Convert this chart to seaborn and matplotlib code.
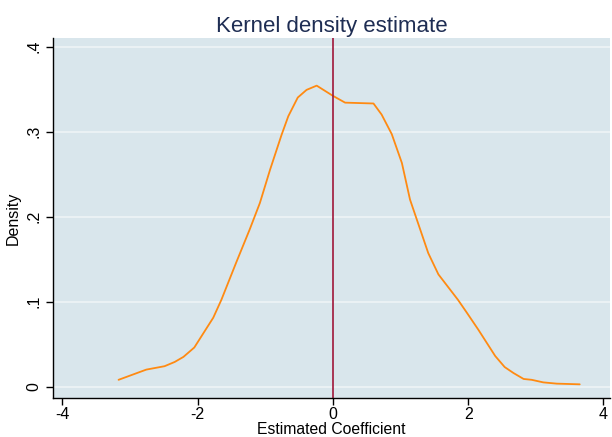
import numpy as np
import pandas as pd
import matplotlib
matplotlib.use("Agg")
import matplotlib.pyplot as plt
import seaborn as sns

# kernel density curve
coef = [-3.17, -2.76, -2.49, -2.34, -2.21, -2.05, -1.77, -1.65, -1.43, -1.23,
        -1.08, -0.93, -0.76, -0.66, -0.52, -0.39, -0.24, 0.0, 0.18, 0.60,
        0.72, 0.87, 1.02, 1.14, 1.29, 1.41, 1.56, 1.85, 1.98, 2.15,
        2.40, 2.54, 2.67, 2.82, 2.94, 3.11, 3.31, 3.65]
density = [0.008, 0.020, 0.024, 0.029, 0.035, 0.046, 0.081, 0.102, 0.146, 0.185,
           0.216, 0.255, 0.296, 0.318, 0.340, 0.349, 0.354, 0.342, 0.334, 0.333,
           0.320, 0.297, 0.263, 0.220, 0.185, 0.157, 0.132, 0.102, 0.087, 0.067,
           0.036, 0.023, 0.016, 0.009, 0.008, 0.005, 0.0035, 0.0027]
xticks = [-4, -2, 0, 2, 4]
yticks = [0, 0.1, 0.2, 0.3, 0.4]
ylabels = ["0", ".1", ".2", ".3", ".4"]

df = pd.DataFrame({"coef": coef, "density": density})

sns.set_theme(style="white")
plt.rcParams["font.family"] = ["Liberation Sans", "DejaVu Sans"]

fig = plt.figure(figsize=(6.12, 4.37), dpi=100)
ax = fig.add_axes([0.086, 0.09, 0.911, 0.823])
ax.set_facecolor("#D9E6EC")

for y in yticks:
    ax.axhline(y, color="#EEF4F6", lw=1.2, zorder=0)

sns.lineplot(data=df, x="coef", y="density", color="#FF8A12", lw=1.3, ax=ax)
ax.axvline(0, color="#A0173A", lw=1.2)

ax.set_xlim(-4.145, 4.1)
ax.set_ylim(-0.013, 0.41)
ax.set_xticks(xticks)
ax.set_xticklabels([str(t) for t in xticks])
ax.set_yticks(yticks)
ax.set_yticklabels(ylabels, rotation=90, va="center")

for s in ["top", "right"]:
    ax.spines[s].set_visible(False)
for s in ["left", "bottom"]:
    ax.spines[s].set_color("black")
    ax.spines[s].set_linewidth(1.0)
ax.tick_params(axis="both", direction="out", length=5, width=1, color="black",
               labelsize=11.5, labelcolor="black", bottom=True, left=True)
ax.tick_params(axis="x", pad=2)
ax.tick_params(axis="y", pad=3)

ax.set_xlabel("Estimated Coefficient", fontsize=11.3, labelpad=0, color="black")
ax.set_ylabel("Density", fontsize=11.5, labelpad=4, color="black")
ax.set_title("Kernel density estimate", fontsize=16, color="#1E2D53", pad=4)

fig.savefig("out.png", dpi=100, facecolor="white")
